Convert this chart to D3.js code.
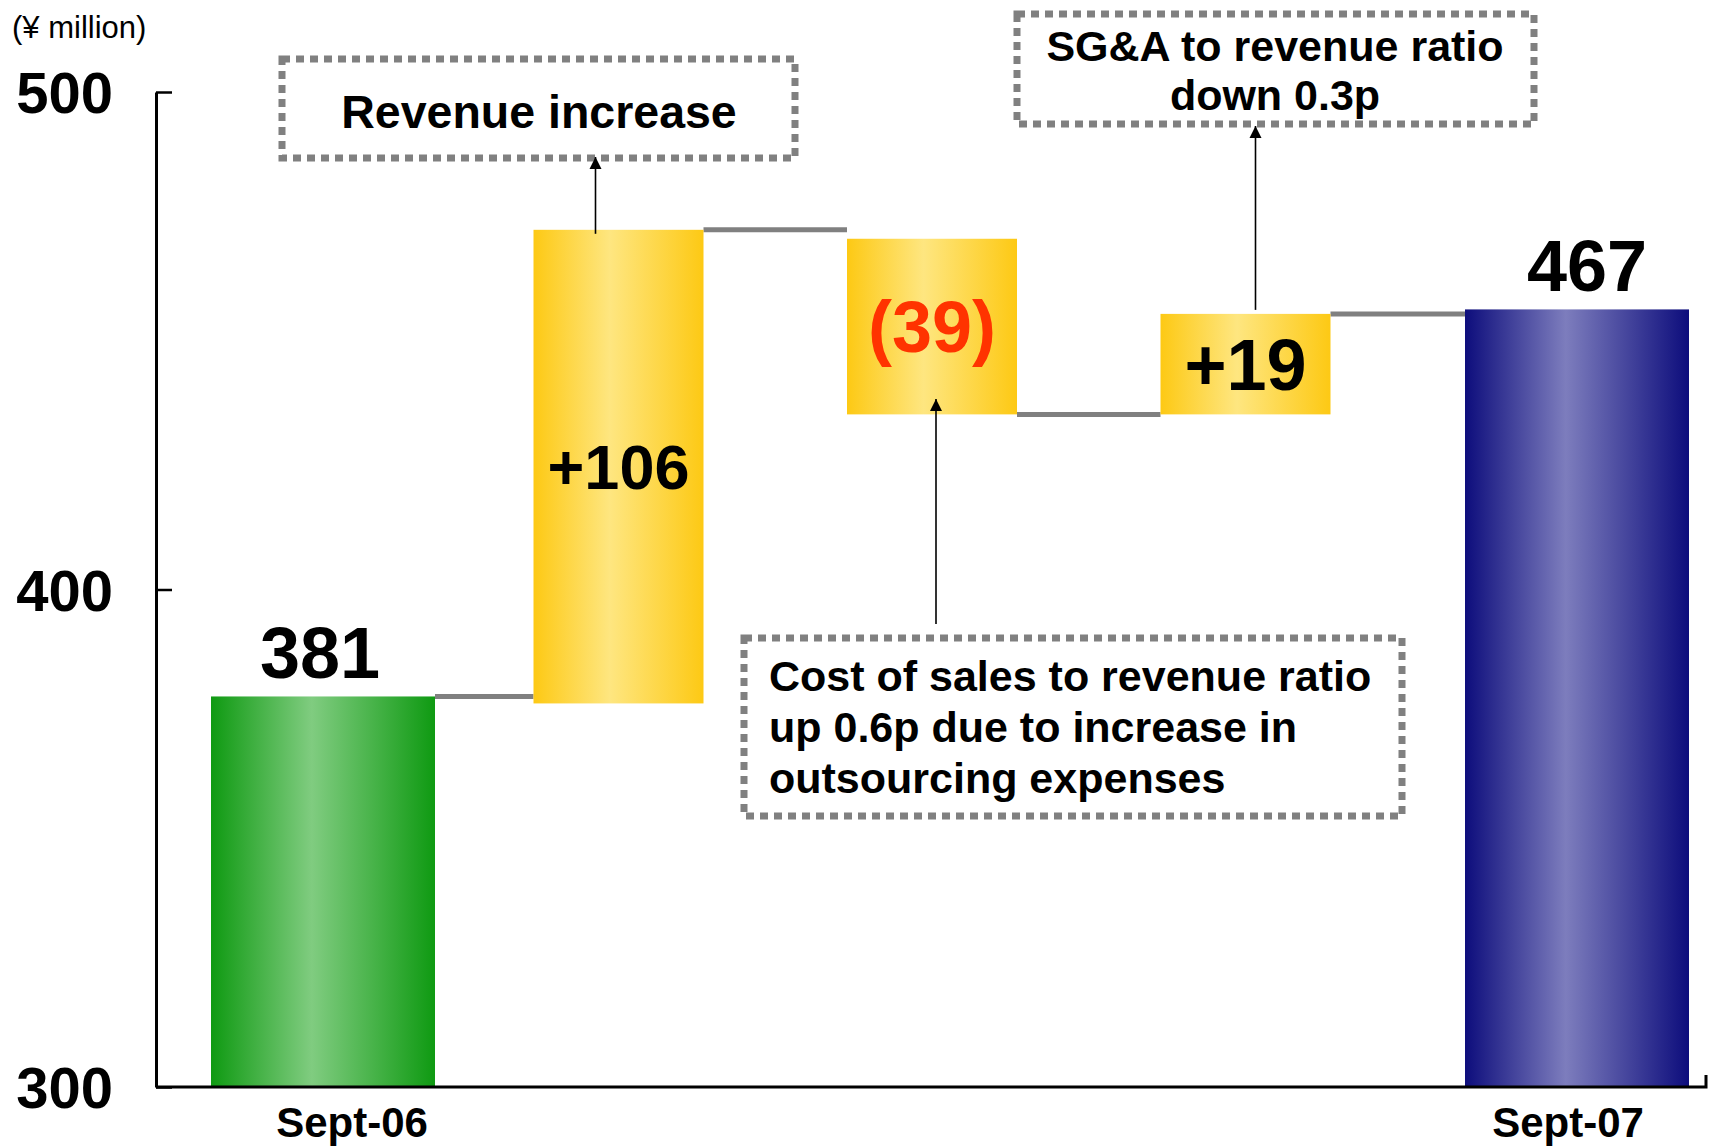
<!DOCTYPE html>
<html>
<head>
<meta charset="utf-8">
<script src="https://cdn.jsdelivr.net/npm/d3@7"></script>
<style>
  body { margin: 0; background: #fff; }
  text { font-family: "Liberation Sans", Arial, sans-serif; font-weight: bold; }
</style>
</head>
<body>
<div id="chart-area"></div>
<script>
// data (axis units)
const categories = ["Sept-06", "Revenue", "Cost of sales", "SG&A", "Sept-07"];
const xLabels = ["Sept-06", "", "", "", "Sept-07"];
const barLow = [300, 377.1, 435.2, 435.2, 300];
const barHigh = [378.5, 472.3, 470.5, 455.4, 456.3];
const barEnd = [378.5, 472.3, 435.2, 455.4, 456.3];
const valueLabels = ["381", "+106", "(39)", "+19", "467"];
const barKind = ["start", "step", "step", "step", "end"];
const yTicks = [300, 400, 500];

const W = 1715, H = 1147;

const svg = d3.select('#chart-area')
  .append('svg')
  .attr('width', W)
  .attr('height', H);

const defs = svg.append('defs');
function grad(id, edge, mid) {
  const g = defs.append('linearGradient').attr('id', id)
    .attr('x1', '0%').attr('x2', '100%').attr('y1', '0%').attr('y2', '0%');
  g.append('stop').attr('offset', '0%').attr('stop-color', edge);
  g.append('stop').attr('offset', '45%').attr('stop-color', mid);
  g.append('stop').attr('offset', '100%').attr('stop-color', edge);
}
grad('gStart', '#0f9a12', '#80cc80');
grad('gStep', '#fdc914', '#fee680');
grad('gEnd', '#0d0d7c', '#7d7dbd');
const fills = { start: 'url(#gStart)', step: 'url(#gStep)', end: 'url(#gEnd)' };

defs.append('marker')
  .attr('id', 'arrow')
  .attr('viewBox', '0 0 10 10')
  .attr('refX', 10).attr('refY', 5)
  .attr('markerWidth', 12).attr('markerHeight', 14)
  .attr('markerUnits', 'userSpaceOnUse')
  .attr('orient', 'auto')
  .append('path').attr('d', 'M0,0 L10,5 L0,10 Z').attr('fill', '#000');

const x = d3.scalePoint()
  .domain(categories)
  .range([323, 1577]);

const y = d3.scaleLinear()
  .domain([300, 500])
  .range([1087, 92]);

// step bars sit a little left of their slot in the original
const bw = i => barKind[i] === 'step' ? 170 : 224;
const cx = i => x(categories[i]) - (barKind[i] === 'step' ? 18 : 0);

const data = categories.map((c, i) => ({
  cat: c, lo: barLow[i], hi: barHigh[i], end: barEnd[i],
  label: valueLabels[i], kind: barKind[i], i: i
}));

// connectors
svg.selectAll('.conn')
  .data(data.slice(0, -1))
  .enter()
  .append('line')
  .attr('class', 'conn')
  .attr('x1', d => cx(d.i) + bw(d.i) / 2)
  .attr('x2', d => cx(d.i + 1) - bw(d.i + 1) / 2)
  .attr('y1', d => y(d.end))
  .attr('y2', d => y(d.end))
  .attr('stroke', '#808080')
  .attr('stroke-width', 5);

// bars
svg.selectAll('.bar')
  .data(data)
  .enter()
  .append('rect')
  .attr('class', 'bar')
  .attr('x', d => cx(d.i) - bw(d.i) / 2)
  .attr('width', d => bw(d.i))
  .attr('y', d => y(d.hi))
  .attr('height', d => y(d.lo) - y(d.hi))
  .attr('fill', d => fills[d.kind]);

// value labels
svg.selectAll('.val')
  .data(data)
  .enter()
  .append('text')
  .attr('class', 'val')
  .attr('text-anchor', 'middle')
  .attr('x', d => cx(d.i) + (d.kind === 'end' ? 10 : (d.kind === 'start' ? -3 : 0)))
  .attr('y', d => d.kind === 'step' ? (y(d.lo) + y(d.hi)) / 2 : y(d.hi) - 18)
  .attr('dy', d => d.kind === 'step' ? '0.36em' : 0)
  .attr('font-size', d => d.label === '+106' ? 63 : 72)
  .attr('fill', d => d.label.startsWith('(') ? '#ff3300' : '#000')
  .text(d => d.label);

// y axis
const yAxis = d3.axisLeft(y)
  .tickValues(yTicks)
  .tickSize(-16)
  .tickSizeOuter(0)
  .tickPadding(43)
  .tickFormat(d3.format('d'));

const ga = svg.append('g')
  .attr('transform', 'translate(156,0)')
  .call(yAxis);
ga.select('.domain').attr('stroke', '#000').attr('stroke-width', 3);
ga.selectAll('.tick line').attr('stroke', '#000').attr('stroke-width', 2.5);
ga.selectAll('.tick text')
  .attr('font-size', 58)
  .attr('font-family', '"Liberation Sans", Arial, sans-serif')
  .attr('font-weight', 'bold')
  .attr('fill', '#000')
  .attr('dy', '0.36em');

// x baseline
svg.append('path')
  .attr('d', `M156,${y(300)} H1706 V${y(300) - 12}`)
  .attr('fill', 'none')
  .attr('stroke', '#000')
  .attr('stroke-width', 3);

svg.selectAll('.xl')
  .data(data.filter(d => xLabels[d.i] !== ''))
  .enter()
  .append('text')
  .attr('class', 'xl')
  .attr('text-anchor', 'middle')
  .attr('x', d => x(d.cat) + (d.kind === 'start' ? 29 : -9))
  .attr('y', 1137)
  .attr('font-size', 42)
  .text(d => xLabels[d.i]);

svg.append('text')
  .attr('x', 12).attr('y', 38)
  .attr('font-size', 31)
  .style('font-weight', 'normal')
  .text('(¥ million)');

// annotation boxes
function box(x0, y0, w, h) {
  svg.append('rect')
    .attr('x', x0).attr('y', y0).attr('width', w).attr('height', h)
    .attr('fill', 'none')
    .attr('stroke', '#808080')
    .attr('stroke-width', 7)
    .attr('stroke-dasharray', '8,6');
}
function arrow(xc, from, to) {
  svg.append('line')
    .attr('x1', xc).attr('x2', xc)
    .attr('y1', from).attr('y2', to)
    .attr('stroke', '#000')
    .attr('stroke-width', 1.6)
    .attr('marker-end', 'url(#arrow)');
}

box(282, 59, 513, 99);
svg.append('text').attr('x', 539).attr('y', 128).attr('text-anchor', 'middle')
  .attr('font-size', 46.5).text('Revenue increase');
arrow(cx(1) - 23, y(barHigh[1]) + 4, 157);

box(1017, 14, 517, 110);
svg.append('text').attr('x', 1275).attr('y', 61).attr('text-anchor', 'middle')
  .attr('font-size', 43).text('SG&A to revenue ratio');
svg.append('text').attr('x', 1275).attr('y', 110).attr('text-anchor', 'middle')
  .attr('font-size', 43).text('down 0.3p');
arrow(cx(3) + 10, y(barHigh[3]) - 4, 126);

box(744, 638, 658, 178);
const costLines = ['Cost of sales to revenue ratio', 'up 0.6p due to increase in', 'outsourcing expenses'];
svg.selectAll('.cl')
  .data(costLines)
  .enter()
  .append('text')
  .attr('x', 769)
  .attr('y', (d, i) => 691 + i * 51)
  .attr('font-size', 43)
  .text(d => d);
arrow(936, 624, 399);
</script>
</body>
</html>
